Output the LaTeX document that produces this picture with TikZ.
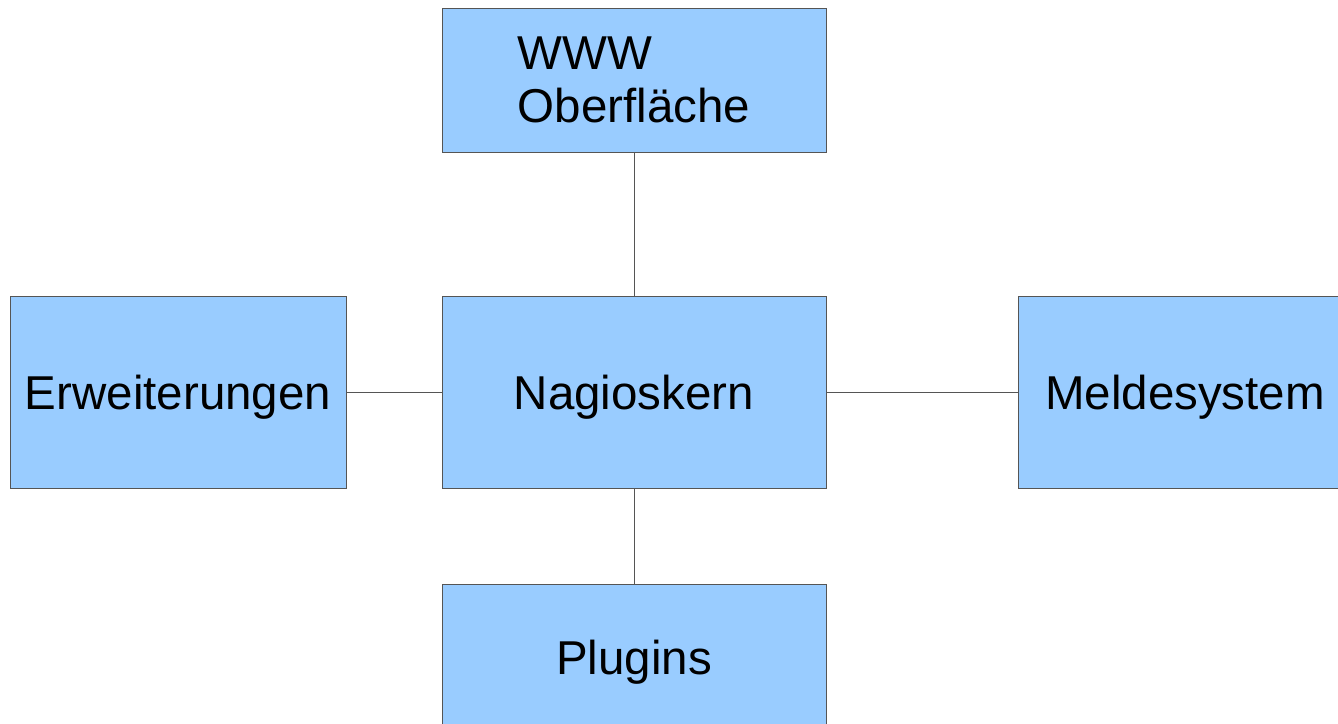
\documentclass[tikz,border=0pt]{standalone}
\usepackage{fontspec}
\setmainfont{Liberation Sans}
\definecolor{boxblue}{HTML}{99CCFF}
\definecolor{edgegray}{HTML}{555555}
\tikzset{
    part/.style={draw=edgegray, fill=boxblue, line width=1pt, minimum width=#1, inner sep=0pt,
        font=\fontsize{47.5}{53}\selectfont, align=left},
    part/.default=384pt,
    oneline/.style={text depth=0pt},
    link/.style={draw=edgegray, line width=1pt}
}
\begin{document}
\begin{tikzpicture}[x=1pt, y=-1pt]
    \useasboundingbox (0,0) rectangle (1338,723);

    \node[part, minimum height=144pt] (www) at (634,80) {WWW\\Oberfläche};
    \node[part, oneline, minimum height=192pt] (kern) at (634,392) {Nagioskern};
    \node[part=336pt, oneline, minimum height=192pt] (erw) at (178,392) {Erweiterungen};
    \node[part=334pt, oneline, minimum height=192pt] (melde) at (1185,392) {Meldesystem};
    \node[part, oneline, minimum height=146pt] (plug) at (634,657) {Plugins};

    \draw[link] (www) -- (kern);
    \draw[link] (erw) -- (kern);
    \draw[link] (kern) -- (melde);
    \draw[link] (kern) -- (plug);
\end{tikzpicture}
\end{document}
